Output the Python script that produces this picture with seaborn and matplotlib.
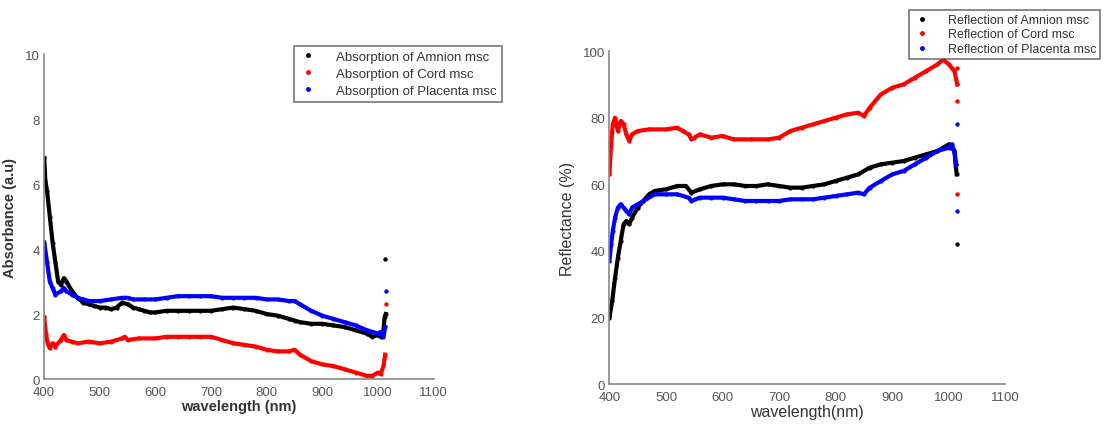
import numpy as np
import pandas as pd
import matplotlib
matplotlib.use("Agg")
import matplotlib.pyplot as plt
from matplotlib.lines import Line2D
import seaborn as sns

# ---------------- Absorption data ----------------
abs_amnion_wl = [400, 402, 405, 410, 415, 420, 425, 430, 435, 440, 450, 460, 470, 480, 490, 500, 510, 520, 530, 540,
                 550, 560, 570, 580, 590, 600, 620, 640, 660, 680, 700, 720, 740, 760, 780, 800, 820, 840, 850, 860,
                 880, 900, 920, 940, 960, 980, 990, 1000, 1005, 1010, 1012, 1014]
abs_amnion = [6.8, 6.1, 5.8, 5.0, 4.2, 3.6, 3.0, 2.9, 3.1, 3.0, 2.7, 2.5, 2.35, 2.3, 2.25, 2.2, 2.2, 2.15, 2.2, 2.35,
              2.3, 2.2, 2.15, 2.1, 2.05, 2.05, 2.1, 2.1, 2.1, 2.1, 2.1, 2.15, 2.2, 2.15, 2.1, 2.0, 1.95, 1.85, 1.8, 1.75,
              1.7, 1.7, 1.65, 1.6, 1.5, 1.4, 1.3, 1.35, 1.3, 1.5, 1.9, 2.0]
abs_amnion_out_wl = [1012]
abs_amnion_out = [3.7]

abs_cord_wl = [400, 403, 406, 410, 415, 420, 430, 435, 440, 450, 460, 480, 500, 520, 540, 545, 550, 570, 600, 620,
               640, 660, 680, 700, 720, 740, 760, 780, 800, 820, 840, 850, 860, 880, 900, 920, 940, 960, 980, 990,
               1000, 1005, 1010, 1013]
abs_cord = [1.9, 1.4, 1.1, 0.95, 1.1, 1.0, 1.2, 1.35, 1.2, 1.15, 1.1, 1.15, 1.1, 1.15, 1.25, 1.3, 1.2, 1.25, 1.25, 1.3,
            1.3, 1.3, 1.3, 1.3, 1.2, 1.1, 1.05, 1.0, 0.9, 0.85, 0.85, 0.9, 0.75, 0.55, 0.45, 0.4, 0.3, 0.2, 0.1, 0.1,
            0.2, 0.15, 0.4, 0.75]
abs_cord_out_wl = [1014]
abs_cord_out = [2.3]

abs_plac_wl = [400, 405, 410, 415, 420, 430, 435, 440, 450, 460, 470, 480, 500, 520, 540, 550, 560, 580, 600, 620,
               640, 660, 680, 700, 720, 740, 760, 780, 800, 820, 840, 850, 860, 880, 900, 920, 940, 960, 980, 990,
               1000, 1005, 1010, 1013]
abs_plac = [4.2, 3.6, 3.0, 2.8, 2.6, 2.7, 2.8, 2.7, 2.6, 2.5, 2.45, 2.4, 2.4, 2.45, 2.5, 2.5, 2.45, 2.45, 2.45, 2.5,
            2.55, 2.55, 2.55, 2.55, 2.5, 2.5, 2.5, 2.5, 2.45, 2.45, 2.4, 2.4, 2.3, 2.1, 1.95, 1.85, 1.75, 1.65, 1.5, 1.45,
            1.4, 1.45, 1.3, 1.6]
abs_plac_out_wl = [1014]
abs_plac_out = [2.7]

# ---------------- Reflection data ----------------
ref_amnion_wl = [400, 405, 410, 415, 420, 425, 430, 435, 440, 450, 460, 470, 480, 500, 520, 535, 545, 560, 580, 600,
                 620, 640, 660, 680, 700, 720, 740, 760, 780, 800, 820, 840, 860, 880, 900, 920, 940, 960, 980, 1000,
                 1005, 1010, 1012, 1014]
ref_amnion = [20, 25, 32, 38, 43, 48, 49, 48, 50, 53, 55, 57, 58, 58.5, 59.5, 59.5, 57.5, 58.5, 59.5, 60,
              60, 59.5, 59.5, 60, 59.5, 59, 59, 59.5, 60, 61, 62, 63, 65, 66, 66.5, 67, 68, 69, 70, 72,
              71, 70, 66, 63]
ref_amnion_out_wl = [1014]
ref_amnion_out = [42]

ref_cord_wl = [400, 403, 406, 410, 415, 420, 425, 430, 435, 440, 450, 470, 500, 520, 530, 540, 545, 550, 560, 580,
               600, 620, 650, 680, 700, 720, 740, 760, 780, 800, 820, 840, 850, 860, 880, 900, 920, 940, 960, 980,
               990, 1000, 1005, 1010, 1015]
ref_cord = [63, 72, 78, 80, 76, 79, 78, 75, 73, 75, 76, 76.5, 76.5, 77, 76, 75, 73.5, 74, 75, 74,
            74.5, 73.5, 73.5, 73.5, 74, 76, 77, 78, 79, 80, 81, 81.5, 80.5, 83, 87, 89, 90, 92, 94, 96,
            97.5, 96, 95, 94, 90]
ref_cord_out_wl = [1014, 1014, 1014]
ref_cord_out = [95, 85, 57]

ref_plac_wl = [400, 403, 406, 410, 415, 420, 425, 430, 435, 440, 450, 460, 480, 500, 520, 540, 545, 560, 580, 600,
               620, 640, 660, 680, 700, 720, 740, 760, 780, 800, 820, 840, 850, 860, 880, 900, 920, 940, 960, 980,
               1000, 1005, 1010, 1013]
ref_plac = [37, 42, 46, 50, 53, 54, 53, 52, 51, 53, 54, 55, 57, 57, 57, 56, 55, 56, 56, 56,
            55.5, 55, 55, 55, 55, 55.5, 55.5, 55.5, 56, 56.5, 57, 57.5, 57, 59, 61, 63, 64, 66, 68, 70,
            71, 72, 70, 66]
ref_plac_out_wl = [1014, 1014]
ref_plac_out = [78, 52]

colors = {"Amnion": "black", "Cord": "red", "Placenta": "blue"}

plt.rcParams['font.family'] = ['Liberation Sans', 'DejaVu Sans']

fig = plt.figure(figsize=(11.06, 4.27), dpi=100)
ax1 = fig.add_axes([0.040, 0.110, 0.352, 0.761])
ax2 = fig.add_axes([0.551, 0.098, 0.358, 0.780])


def draw(ax, series):
    for name, wl, val, owl, oval in series:
        df = pd.DataFrame({"wl": wl, "val": val})
        sns.lineplot(data=df, x="wl", y="val", ax=ax, color=colors[name], linewidth=3.0,
                     marker="o", markersize=3, markeredgewidth=0, legend=False, sort=False)
        dfo = pd.DataFrame({"wl": owl, "val": oval})
        sns.scatterplot(data=dfo, x="wl", y="val", ax=ax, color=colors[name], s=10,
                        linewidth=0, legend=False)


draw(ax1, [("Amnion", abs_amnion_wl, abs_amnion, abs_amnion_out_wl, abs_amnion_out),
           ("Placenta", abs_plac_wl, abs_plac, abs_plac_out_wl, abs_plac_out),
           ("Cord", abs_cord_wl, abs_cord, abs_cord_out_wl, abs_cord_out)])
draw(ax2, [("Cord", ref_cord_wl, ref_cord, ref_cord_out_wl, ref_cord_out),
           ("Amnion", ref_amnion_wl, ref_amnion, ref_amnion_out_wl, ref_amnion_out),
           ("Placenta", ref_plac_wl, ref_plac, ref_plac_out_wl, ref_plac_out)])

xticks = [400, 500, 600, 700, 800, 900, 1000, 1100]
for ax in (ax1, ax2):
    ax.set_xlim(400, 1100)
    ax.set_xticks(xticks)
    for s in ("top", "right"):
        ax.spines[s].set_visible(False)
    for s in ("left", "bottom"):
        ax.spines[s].set_color("#888888")
        ax.spines[s].set_linewidth(1.2)
    ax.tick_params(length=0, labelsize=9.5, colors="#555555")
    ax.tick_params(axis="x", pad=5)
    ax.tick_params(axis="y", pad=3)
    ax.set_facecolor("white")

ax1.set_ylim(0, 10)
ax1.set_yticks([0, 2, 4, 6, 8, 10])
ax1.set_xlabel("wavelength (nm)", fontsize=10.5, fontweight="bold", color="#333333", labelpad=1)
ax1.set_ylabel("Absorbance (a.u)", fontsize=10.5, fontweight="bold", color="#333333", labelpad=6)

ax2.set_ylim(0, 100)
ax2.set_yticks([0, 20, 40, 60, 80, 100])
ax2.set_xlabel("wavelength(nm)", fontsize=11.5, color="#333333", labelpad=1)
ax2.set_ylabel("Reflectance (%)", fontsize=11.5, color="#333333", labelpad=6)


def handles(prefix):
    return [Line2D([], [], linestyle="none", marker="o", markersize=2.5, color=colors[n],
                   label=f"{prefix} of {n} msc") for n in ("Amnion", "Cord", "Placenta")]


leg1 = fig.legend(handles=handles("Absorption"), loc="upper left",
                  bbox_to_anchor=(287 / 1106, 1 - 40 / 427), fontsize=9.5, frameon=True,
                  fancybox=False, handlelength=1.4, handletextpad=1.4, borderpad=0.4, labelspacing=0.35)
leg1.get_frame().set_edgecolor("#555555")
leg1.get_frame().set_linewidth(1.2)
for t in leg1.get_texts():
    t.set_color("#333333")

leg2 = fig.legend(handles=handles("Reflection"), loc="upper left",
                  bbox_to_anchor=(903 / 1106, 1 - 5 / 427), fontsize=9, frameon=True,
                  fancybox=False, handlelength=1.4, handletextpad=1.4, borderpad=0.3, labelspacing=0.2)
leg2.get_frame().set_edgecolor("#555555")
leg2.get_frame().set_linewidth(1.2)
for t in leg2.get_texts():
    t.set_color("#333333")

fig.savefig("out.png", dpi=100, facecolor="white")
